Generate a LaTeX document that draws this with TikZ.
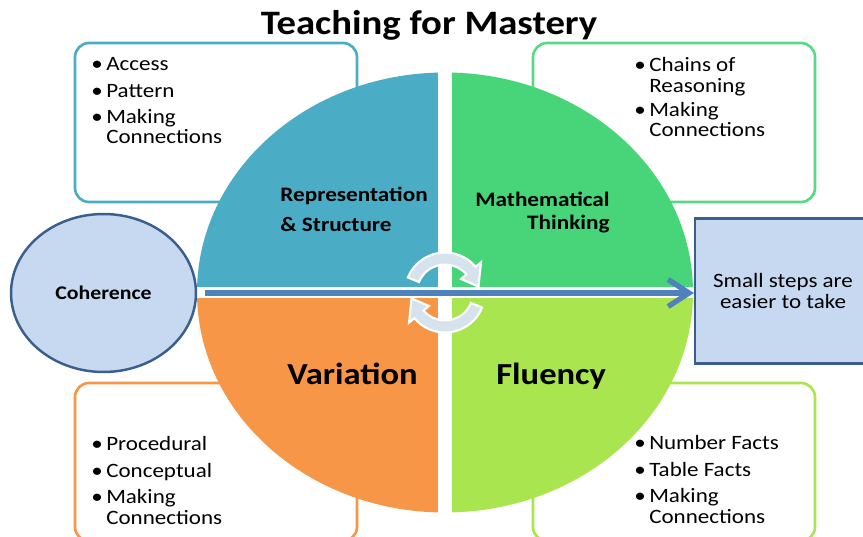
\documentclass[tikz,border=0pt]{standalone}
\usepackage{fontspec}
\setmainfont{Carlito}[FakeStretch=1.13]
\usetikzlibrary{shapes.geometric,arrows.meta}
\pgfdeclarelayer{edgelayer}
\pgfdeclarelayer{nodelayer}
\pgfsetlayers{edgelayer,nodelayer,main}
\definecolor{repblue}{HTML}{4BACC6}
\definecolor{mathgreen}{HTML}{48D478}
\definecolor{varorange}{HTML}{F79646}
\definecolor{flugreen}{HTML}{A9E54F}
\definecolor{cohfill}{HTML}{C6D9F1}
\definecolor{cohdraw}{HTML}{3B5F8C}
\definecolor{lineblue}{HTML}{4F81BD}
\definecolor{cycfill}{HTML}{D6E3EC}
\newcommand{\bul}{\makebox[8.5pt][l]{\textbullet}}
\newcommand{\ind}{\hspace*{8.5pt}}
\tikzstyle{none}=[inner sep=0pt]
\tikzstyle{list}=[inner sep=0pt,anchor=base west,align=left,font=\fontsize{11.6}{11.4}\selectfont]
\tikzstyle{head}=[inner sep=0pt,anchor=base west,font=\bfseries\fontsize{11.7}{12}\selectfont]
\tikzstyle{big}=[inner sep=0pt,anchor=base west,font=\bfseries\fontsize{17.4}{20}\selectfont]
\tikzstyle{panel}=[line width=1.5pt,rounded corners=8pt,fill=white]
\tikzstyle{oval}=[ellipse,draw=cohdraw,fill=cohfill,line width=1.4pt,minimum width=3.7cm,minimum height=3.16cm,inner sep=0pt,font=\bfseries\fontsize{11}{12}\selectfont]
\tikzstyle{stepbox}=[rectangle,draw=cohdraw,fill=cohfill,line width=1.2pt,minimum width=3.52cm,minimum height=2.9cm,align=center,font=\fontsize{11.6}{12.5}\selectfont]
\tikzstyle{cycle}=[fill=cycfill,draw=white,line width=1.2pt]

\begin{document}
\begin{tikzpicture}[x=0.02cm,y=-0.02cm]
	\clip (0,0) rectangle (863,537);
	\coordinate (c) at (445,292.5);
	\begin{pgfonlayer}{nodelayer}
		\node [style=oval] (0) at (103.5,293) {Coherence};
		\node [style=stepbox] (1) at (783,291) {Small steps are\\easier to take};
		\node [style=none, anchor=base, font=\bfseries\fontsize{19.5}{22}\selectfont] (2) at (429,35) {Teaching for Mastery};
		\node [style=head] (3) at (280,201.7) {Representation};
		\node [style=head] (4) at (280,232) {\& Structure};
		\node [style=head, anchor=base east] (5) at (610,206.7) {Mathematical};
		\node [style=head, anchor=base east] (6) at (610,230) {Thinking};
		\node [style=big] (7) at (287,384) {Variation};
		\node [style=big] (8) at (496,384) {Fluency};
		% lists are placed by the baseline of their last line
		\node [style=list] (9) at (91,144) {\bul Access\\[3.7pt]\bul Pattern\\[3.7pt]\bul Making\\ \ind Connections};
		\node [style=list] (10) at (634,137) {\bul Chains of\\[1pt] \ind Reasoning\\[2.3pt]\bul Making\\ \ind Connections};
		\node [style=list] (11) at (91,524) {\bul Procedural\\[3.7pt]\bul Conceptual\\[3.7pt]\bul Making\\ \ind Connections};
		\node [style=list] (12) at (634,523) {\bul Number Facts\\[3.7pt]\bul Table Facts\\[3.7pt]\bul Making\\ \ind Connections};
	\end{pgfonlayer}
	\begin{pgfonlayer}{edgelayer}
		% boxes behind the wheel
		\draw [style=panel, draw=repblue] (75,43) rectangle (357,202);
		\draw [style=panel, draw=mathgreen!90!white] (533,43) rectangle (815,202);
		\draw [style=panel, draw=varorange] (75,383) rectangle (357,541);
		\draw [style=panel, draw=flugreen] (533,383) rectangle (815,541);
		% the four quarters
		\foreach \cx/\cy/\col in {0/0/repblue,863/0/mathgreen,0/537/varorange,863/537/flugreen}
		{
			\begin{scope}
				\clip (c) rectangle (\cx,\cy);
				\fill [\col] (c) ellipse [x radius=248, y radius=220];
			\end{scope}
		}
		\draw [white, line width=8pt] (445,60) -- (445,525);
		\draw [white, line width=6.3pt] (197,292.5) -- (693,292.5);
		% turning arrows
		\foreach \r in {0,180}
			\draw [style=cycle, shift={(c)}, y=0.02cm, rotate=\r] (158:40) arc [start angle=158, end angle=40, radius=40] -- (40:47) -- (10:34) -- (40:21) -- (40:28) arc [start angle=40, end angle=158, radius=28] -- cycle;
		\draw [lineblue, line width=3pt, shorten <=4.5pt, -{Straight Barb[length=0.42cm,width=0.54cm]}] (0.east) -- (0.east -| 1.west);
	\end{pgfonlayer}
\end{tikzpicture}
\end{document}
